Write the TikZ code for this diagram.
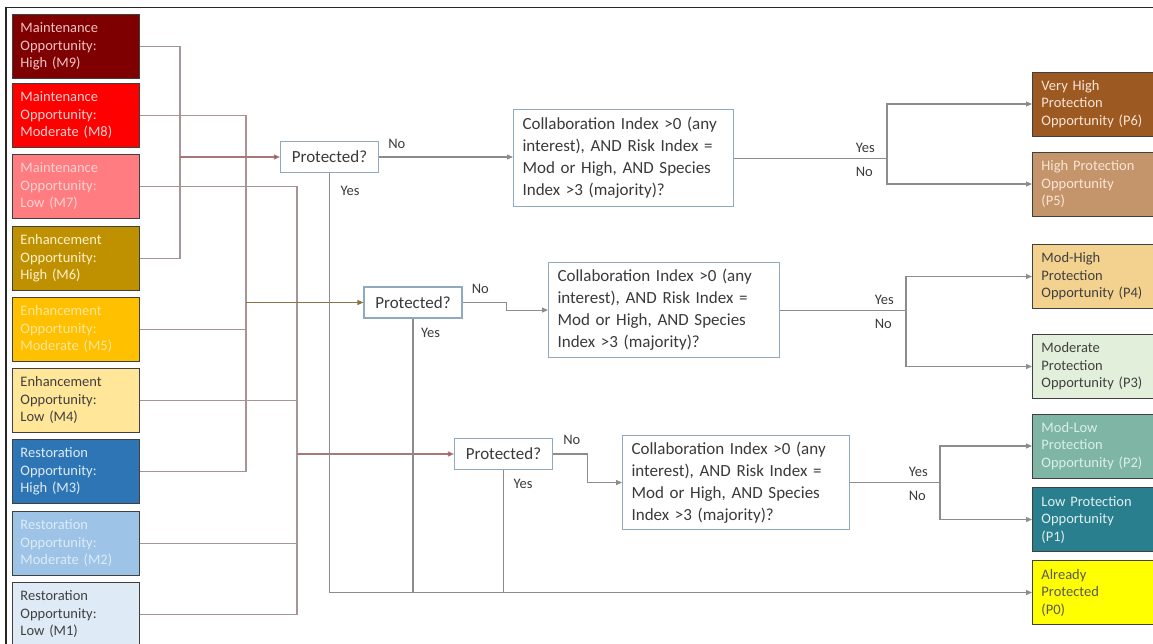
\documentclass[tikz,border=0pt]{standalone}
\usepackage{fontspec}
\setmainfont{Carlito}
\usetikzlibrary{arrows.meta,positioning,calc}
\definecolor{bordc}{HTML}{404040}
\definecolor{decb}{HTML}{8FAAC0}
\definecolor{dtext}{HTML}{3A3A3A}
\definecolor{conn}{HTML}{8C8C8C}
\definecolor{busc}{HTML}{A89494}
\definecolor{redarr}{HTML}{B03030}
\definecolor{redline}{HTML}{A87878}
\definecolor{olarr}{HTML}{8B6F2A}
\definecolor{olline}{HTML}{8A7445}
\definecolor{fM9}{HTML}{7F0000}\definecolor{tM9}{HTML}{F4C2C2}
\definecolor{fM8}{HTML}{FF0000}\definecolor{tM8}{HTML}{FBD0D0}
\definecolor{fM7}{HTML}{FF7C80}\definecolor{tM7}{HTML}{FFD2D2}
\definecolor{fM6}{HTML}{BF9000}\definecolor{tM6}{HTML}{FFF2CC}
\definecolor{fM5}{HTML}{FFC000}\definecolor{tM5}{HTML}{FFE699}
\definecolor{fM4}{HTML}{FFE699}\definecolor{tM4}{HTML}{404040}
\definecolor{fM3}{HTML}{2E75B6}\definecolor{tM3}{HTML}{DDEBF7}
\definecolor{fM2}{HTML}{9DC3E6}\definecolor{tM2}{HTML}{DDEBF7}
\definecolor{fM1}{HTML}{DEEBF7}\definecolor{tM1}{HTML}{404040}
\definecolor{fP6}{HTML}{9C5A22}\definecolor{tP6}{HTML}{FCE4D6}
\definecolor{fP5}{HTML}{C4956A}\definecolor{tP5}{HTML}{FCE4D6}
\definecolor{fP4}{HTML}{F3D18E}\definecolor{tP4}{HTML}{404040}
\definecolor{fP3}{HTML}{E2EFDA}\definecolor{tP3}{HTML}{404040}
\definecolor{fP2}{HTML}{7FB5A5}\definecolor{tP2}{HTML}{D8F0E8}
\definecolor{fP1}{HTML}{2A7F8E}\definecolor{tP1}{HTML}{DDEFF0}
\definecolor{fP0}{HTML}{FFFF00}\definecolor{tP0}{HTML}{595959}
\begin{document}
\begin{tikzpicture}[x=1pt,y=-1pt,
  lbox/.style={draw=bordc,line width=0.9pt,anchor=north west,minimum height=64pt,
    text width=111pt,inner xsep=8pt,inner ysep=0pt,align=left,
    font=\fontsize{14.5}{17.5}\selectfont},
  rbox/.style={lbox,text width=108pt,inner xsep=9pt,anchor=west},
  decbox/.style={draw=decb,line width=1.1pt,fill=white,text=dtext,anchor=north west,
    inner xsep=9pt,inner ysep=0pt,align=left,font=\fontsize{17}{22}\selectfont},
  protbox/.style={draw=decb,line width=1.1pt,fill=white,text=dtext,
    minimum width=98pt,minimum height=31pt,inner sep=0pt,font=\fontsize{17}{20}\selectfont},
  lab/.style={text=dtext,inner sep=0pt,font=\fontsize{14.5}{17}\selectfont},
  conline/.style={draw=conn,line width=1.1pt},
  arr/.style={conline,-{Triangle[length=6pt,width=5pt]}},
  busline/.style={draw=busc,line width=1.1pt},
]
\useasboundingbox (0,0) rectangle (1153,643);
\draw[line width=1.5pt,draw=black!85] (6,645) -- (6,7.5) -- (1155,7.5);

% left boxes
\node[lbox,fill=fM9,text=tM9] (M9) at (12,14) {Maintenance\\Opportunity:\\High (M9)};
\node[lbox,fill=fM8,text=tM8] (M8) at (12,83) {Maintenance\\Opportunity:\\Moderate (M8)};
\node[lbox,fill=fM7,text=tM7] (M7) at (12,154) {Maintenance\\Opportunity:\\Low (M7)};
\node[lbox,fill=fM6,text=tM6] (M6) at (12,226) {Enhancement\\Opportunity:\\High (M6)};
\node[lbox,fill=fM5,text=tM5] (M5) at (12,297) {Enhancement\\Opportunity:\\Moderate (M5)};
\node[lbox,fill=fM4,text=tM4] (M4) at (12,368) {Enhancement\\Opportunity:\\Low (M4)};
\node[lbox,fill=fM3,text=tM3] (M3) at (12,439) {Restoration\\Opportunity:\\High (M3)};
\node[lbox,fill=fM2,text=tM2] (M2) at (12,511) {Restoration\\Opportunity:\\Moderate (M2)};
\node[lbox,fill=fM1,text=tM1] (M1) at (12,582) {Restoration\\Opportunity:\\Low (M1)};

% protected? boxes
\node[protbox] (PA) at (329.5,157) {Protected?};
\node[protbox] (PB) at (413,302.5) {Protected?};
\node[protbox] (PC) at (503.5,454) {Protected?};

% collaboration boxes
\node[decbox,minimum width=220pt,minimum height=97pt,text width=202pt] (CA) at (513,109)
  {Collaboration Index >0 (any\\interest), AND Risk Index =\\Mod or High, AND Species\\Index >3 (majority)?};
\node[decbox,minimum width=231pt,minimum height=95pt,text width=213pt] (CB) at (548,262)
  {Collaboration Index >0 (any\\interest), AND Risk Index =\\Mod or High, AND Species\\Index >3 (majority)?};
\node[decbox,minimum width=227pt,minimum height=94pt,text width=209pt] (CC) at (622,435)
  {Collaboration Index >0 (any\\interest), AND Risk Index =\\Mod or High, AND Species\\Index >3 (majority)?};

% result boxes
\node[rbox,fill=fP6,text=tP6] (R6) at (1032,104) {Very High\\Protection\\Opportunity (P6)};
\node[rbox,fill=fP5,text=tP5] (R5) at (1032,184) {High Protection\\Opportunity\\(P5)};
\node[rbox,fill=fP4,text=tP4] (R4) at (1032,276.5) {Mod-High\\Protection\\Opportunity (P4)};
\node[rbox,fill=fP3,text=tP3] (R3) at (1032,366.5) {Moderate\\Protection\\Opportunity (P3)};
\node[rbox,fill=fP2,text=tP2] (R2) at (1032,446) {Mod-Low\\Protection\\Opportunity (P2)};
\node[rbox,fill=fP1,text=tP1] (R1) at (1032,519.5) {Low Protection\\Opportunity\\(P1)};
\node[rbox,fill=fP0,text=tP0] (R0) at (1032,592.5) {Already\\Protected\\(P0)};

% bus coordinates
\coordinate (busA) at (180,0);
\coordinate (busB) at (246,0);
\coordinate (busC) at (297,0);
\coordinate (jA) at (887,0);
\coordinate (jB) at (906,0);
\coordinate (jC) at (940,0);

% left buses
\draw[busline] (M9.east) -- (M9.east -| busA) -- (M6.east -| busA) -- (M6.east);
\draw[busline] (M8.east) -- (M8.east -| busB) -- (M3.east -| busB) -- (M3.east);
\draw[busline] (M5.east) -- (M5.east -| busB);
\draw[busline] (M7.east) -- (M7.east -| busC) -- (M1.east -| busC) -- (M1.east);
\draw[busline] (M4.east) -- (M4.east -| busC);
\draw[busline] (M2.east) -- (M2.east -| busC);

\draw[draw=redline,line width=1.1pt,-{Triangle[length=6pt,width=5pt,fill=redarr]}] (PA.west -| busA) -- (PA.west);
\draw[draw=olline,line width=1.1pt,-{Triangle[length=6pt,width=5pt,fill=olarr]}] (PB.west -| busB) -- (PB.west);
\draw[draw=redline,line width=1.1pt,-{Triangle[length=6pt,width=5pt,fill=redarr]}] (PC.west -| busC) -- (PC.west);

% protected -> collaboration (No)
\draw[arr] (PA.east) -- (PA.east -| CA.west);
\draw[arr] (PB.east) -- ++(44,0) |- (CB.west);
\draw[arr] (PC.east) -- ++(34,0) |- (CC.west);

% protected -> already protected (Yes)
\draw[arr] (PA.south) |- (R0.west);
\draw[conline] (PB.south) -- (PB.south |- R0.west);
\draw[conline] (PC.south) -- (PC.south |- R0.west);

\node[lab,anchor=base west] (noA) at ($(PA.east)+(9,-9)$) {No};
\node[lab,anchor=base west] (noB) at ($(PB.east)+(9,-9)$) {No};
\node[lab,anchor=base west] (noC) at ($(PC.east)+(10,-10)$) {No};
\node[lab,anchor=base west] (yesA) at ($(PA.south)+(11,22)$) {Yes};
\node[lab,anchor=base west] (yesB) at ($(PB.south)+(8,19)$) {Yes};
\node[lab,anchor=base west] (yesC) at ($(PC.south)+(10,18)$) {Yes};

% collaboration -> results
\draw[conline] (CA.east) -- (CA.east -| jA);
\draw[arr] (CA.east -| jA) |- (R6.west);
\draw[arr] (CA.east -| jA) |- (R5.west);
\draw[conline] (CB.east) -- (CB.east -| jB);
\draw[arr] (CB.east -| jB) |- (R4.west);
\draw[arr] (CB.east -| jB) |- (R3.west);
\draw[conline] (CC.east) -- (CC.east -| jC);
\draw[arr] (CC.east -| jC) |- (R2.west);
\draw[arr] (CC.east -| jC) |- (R1.west);

\node[lab,anchor=base east] (yA) at ($(CA.east -| jA)+(-12,-6)$) {Yes};
\node[lab,anchor=base east] (nA) at ($(CA.east -| jA)+(-14,18)$) {No};
\node[lab,anchor=base east] (yB) at ($(CB.east -| jB)+(-12,-6)$) {Yes};
\node[lab,anchor=base east] (nB) at ($(CB.east -| jB)+(-14,18)$) {No};
\node[lab,anchor=base east] (yC) at ($(CC.east -| jC)+(-12,-6)$) {Yes};
\node[lab,anchor=base east] (nC) at ($(CC.east -| jC)+(-14,18)$) {No};
\end{tikzpicture}
\end{document}
